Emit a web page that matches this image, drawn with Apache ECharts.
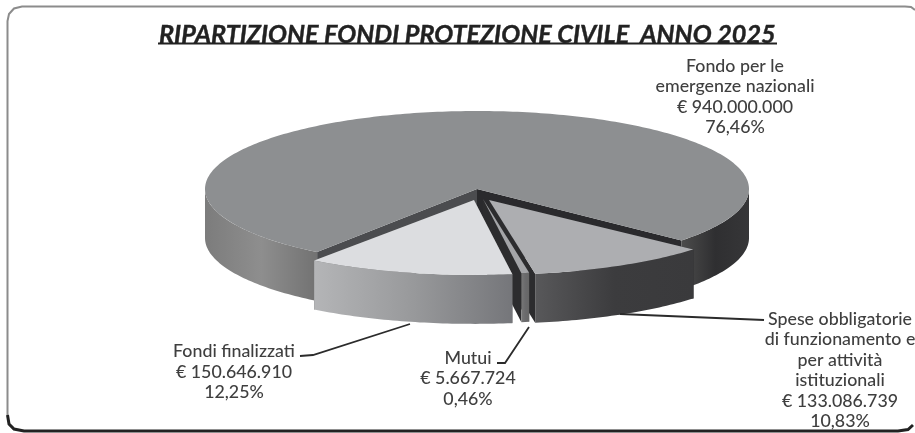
<!DOCTYPE html>
<html><head><meta charset="utf-8">
<style>html,body{margin:0;padding:0;background:#fff}#c{width:915px;height:433px}</style>
<script src="https://cdn.jsdelivr.net/npm/echarts@6/dist/echarts.min.js"></script></head>
<body><div id="c"></div>
<script>
var titleText = 'RIPARTIZIONE FONDI PROTEZIONE CIVILE  ANNO 2025';
var categories = ['Fondo per le\nemergenze nazionali', 'Spese obbligatorie\ndi funzionamento e\nper attività\nistituzionali', 'Mutui', 'Fondi finalizzati'];
var amounts = [940000000, 133086739, 5667724, 150646910];
var amountLabels = ['€ 940.000.000', '€ 133.086.739', '€ 5.667.724', '€ 150.646.910'];
var percentLabels = ['76,46%', '10,83%', '0,46%', '12,25%'];

// presentation
var CX = 477, CY = 189, RX = 272, RY = 78, DEPTH = 49, START = 216;
var explodeX = [0, 12, 6, -3], explodeY = [0, 11, 10, 11], ryScale = [1, 0.96, 0.96, 0.96];
var topFill = ['#8d8f91', '#adaeb1', '#a4a5a8', '#dcdde0'];
var wallStart = ['#4b4c4f', '#2c2c2e', '#2c2c2e', '#555'];
var wallEnd = ['#2a2a2d', '#2c2c2e', '#2c2c2e', '#555'];
var sideStops = [
  [['#7c7c7c', '#8e8e8e', '#727272'], ['#4c4c4c', '#2f2f31', '#363638']],
  [['#58585a', '#3c3c3e', '#3a3a3c']],
  [['#777', '#6a6a6c', '#666']],
  [['#b4b5b7', '#98999b', '#75767a']]
];
var labelPos = [[735, 97], [840, 370.5], [468, 378.5], [234, 372]];
var leaders = [null, [[620, 314], [764, 320]], [[529, 327], [505, 363], [497, 363]], [[410, 324], [313, 355], [300, 356]]];

var total = amounts.reduce(function (a, b) { return a + b; }, 0);
var angles = []; (function () { var a = START; amounts.forEach(function (v) { var s = v / total * 360; angles.push([a, a + s]); a += s; }); })();

function pt(cx, cy, ry, t) { var r = t * Math.PI / 180; return [cx + RX * Math.sin(r), cy - ry * Math.cos(r)]; }
function arc(cx, cy, ry, a, b) { var o = [], n = Math.max(2, Math.ceil(Math.abs(b - a))); for (var i = 0; i <= n; i++) o.push(pt(cx, cy, ry, a + (b - a) * i / n)); return o; }
function grad(c) { return new echarts.graphic.LinearGradient(0, 0, 1, 0, [{ offset: 0, color: c[0] }, { offset: .5, color: c[1] }, { offset: 1, color: c[2] }]); }

function renderSlice(params, api) {
  var i = params.dataIndex, a = angles[i][0], b = angles[i][1];
  var cx = CX + explodeX[i], cy = CY + explodeY[i], ry = RY * ryScale[i];
  var kids = [];
  function poly(points, fill) { kids.push({ type: 'polygon', shape: { points: points }, style: { fill: fill, stroke: null } }); }
  var ap = [cx, cy], apD = [cx, cy + DEPTH], pa = pt(cx, cy, ry, a), pb = pt(cx, cy, ry, b);
  // cut walls
  poly([ap, pa, [pa[0], pa[1] + DEPTH], apD], wallStart[i]);
  poly([ap, pb, [pb[0], pb[1] + DEPTH], apD], wallEnd[i]);
  // outer visible side (front half of the ellipse, 90..270 and wrapped)
  var k = 0;
  [[90, 270], [450, 630]].forEach(function (w) {
    var s = Math.max(a, w[0]), e = Math.min(b, w[1]);
    if (e > s) {
      var edge = arc(cx, cy, ry, s, e);
      var low = edge.map(function (p) { return [p[0], p[1] + DEPTH]; }).reverse();
      poly(edge.concat(low), grad(sideStops[i][k++]));
    }
  });
  // top face
  poly([ap].concat(arc(cx, cy, ry, a, b)), topFill[i]);
  // leader
  if (leaders[i]) kids.push({ type: 'polyline', shape: { points: leaders[i] }, style: { stroke: '#2b2b2b', lineWidth: 1.8, fill: null } });
  // label
  var txt = categories[api.value(0)] + '\n' + amountLabels[i] + '\n' + percentLabels[i];
  kids.push({ type: 'text', x: labelPos[i][0], y: labelPos[i][1], style: { text: txt, fill: '#3f3f3f', font: '500 17.8px Lato', align: 'center', verticalAlign: 'middle', lineHeight: 20.5 } });
  return { type: 'group', children: kids };
}

var chart = echarts.init(document.getElementById('c'), null, { renderer: 'canvas' });
chart.setOption({
  animation: false, backgroundColor: '#fff',
  title: { text: titleText, left: 154, top: 17, textStyle: { fontFamily: 'Lato', fontStyle: 'italic', fontWeight: 'bold', fontSize: 25.2, color: '#222', textBorderColor: '#222', textBorderWidth: 0.4 } },
  graphic: [
    { type: 'polyline', z: 1, shape: { points: [[7.5, 415], [7.5, 21], [9, 14], [14, 8.5], [22, 6.5], [905, 6.5], [911, 7], [915, 10]] }, style: { stroke: '#8c8c8c', lineWidth: 2, fill: null } },
    { type: 'polyline', z: 1, shape: { points: [[7.5, 415], [9, 424], [14, 429], [24, 431], [898, 431], [908, 429.5], [913, 425]] }, style: { stroke: '#222', lineWidth: 3, fill: null } },
    { type: 'line', z: 1, shape: { x1: 158, y1: 43.5, x2: 777, y2: 43.5 }, style: { stroke: '#222', lineWidth: 2 } }
  ],
  series: [{ type: 'custom', coordinateSystem: 'none', silent: true, clip: false, renderItem: renderSlice,
    data: amounts.map(function (v, i) { return [i, v]; }), z: 3 }]
});
</script></body></html>
